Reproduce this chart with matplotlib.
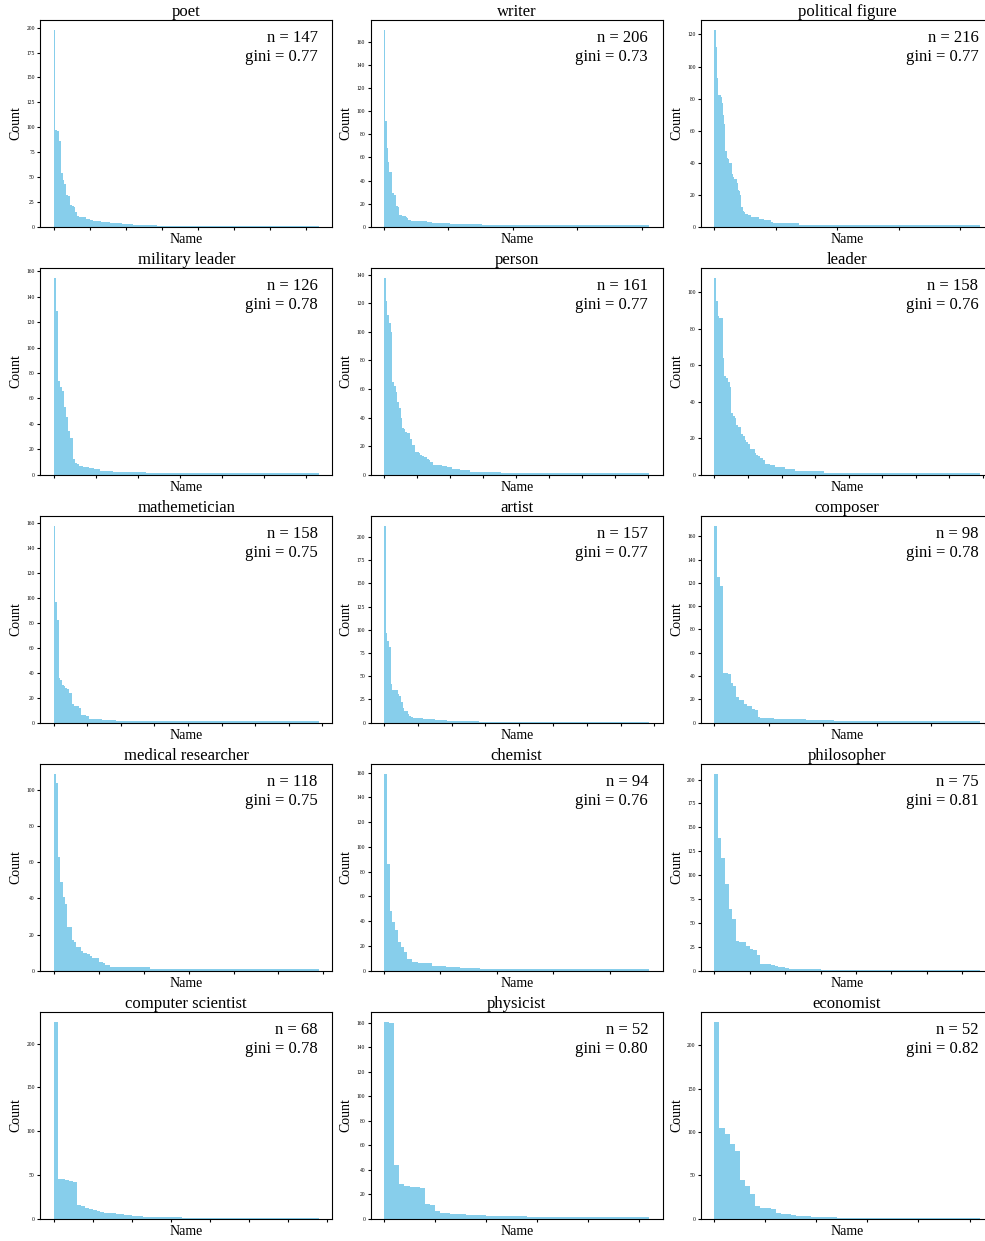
import matplotlib
matplotlib.use('Agg')
import matplotlib.pyplot as plt
import numpy as np

plt.rcParams['font.family'] = ['Liberation Serif', 'DejaVu Serif']

# occupations, in the order of the grid
titles = ['poet', 'writer', 'political figure',
          'military leader', 'person', 'leader',
          'mathemetician', 'artist', 'composer',
          'medical researcher', 'chemist', 'philosopher',
          'computer scientist', 'physicist', 'economist']
n_values = [147, 206, 216, 126, 161, 158, 158, 157, 98, 118, 94, 75, 68, 52, 52]
gini_values = [0.77, 0.73, 0.77, 0.78, 0.77, 0.76, 0.75, 0.77, 0.78, 0.75, 0.76, 0.81, 0.78, 0.80, 0.82]

# counts per name, sorted: first bars one by one, then the flat tail as (count, how many)
poet_head = [198, 97, 96, 86, 54, 47, 43, 32, 31, 22, 21, 20, 15, 11, 10, 10, 10, 10, 8, 8,
             7, 7, 6, 6, 6, 6, 5, 5, 5, 5, 5]
poet_tail = [(4, 7), (3, 6), (2, 13), (1, 90)]
writer_head = [171, 92, 68, 56, 47, 47, 29, 29, 27, 18, 18, 17, 10, 10, 9, 9, 9, 8, 7, 6, 6]
writer_tail = [(5, 12), (4, 4), (3, 14), (2, 25), (1, 130)]
political_head = [123, 112, 93, 82, 82, 81, 77, 70, 64, 47, 43, 42, 40, 40, 33, 31, 30, 30, 27, 23,
                  22, 20, 12, 10, 9, 8, 8]
political_tail = [(7, 3), (6, 6), (5, 4), (4, 6), (3, 2), (2, 21), (1, 147)]
military_head = [155, 129, 74, 69, 66, 53, 45, 34, 29, 12, 9, 8, 7, 7, 6, 6, 6, 5, 5]
military_tail = [(4, 3), (3, 6), (2, 16), (1, 82)]
person_head = [138, 122, 112, 106, 100, 65, 62, 58, 51, 47, 40, 33, 32, 30, 29, 29, 25, 21, 21, 16,
               16, 15, 14, 13, 12, 12, 11, 10, 9, 9]
person_tail = [(7, 5), (6, 3), (5, 3), (4, 5), (3, 6), (2, 19), (1, 90)]
leader_head = [108, 95, 87, 86, 86, 64, 54, 53, 51, 48, 34, 32, 31, 27, 26, 26, 22, 21, 19, 18,
               17, 14, 14, 14, 12, 11, 10, 9, 9, 8]
leader_tail = [(6, 3), (5, 3), (4, 6), (3, 6), (2, 17), (1, 93)]
math_head = [158, 97, 82, 36, 34, 30, 29, 28, 27, 24, 24, 15, 13, 13, 13, 12, 6, 6, 6, 5, 5]
math_tail = [(3, 8), (2, 8), (1, 121)]
artist_head = [212, 96, 88, 81, 42, 35, 35, 35, 31, 29, 22, 16, 13, 12, 9, 7, 6]
artist_tail = [(5, 6), (4, 7), (3, 7), (2, 19), (1, 101)]
composer_head = [169, 125, 117, 43, 43, 42, 34, 31, 22, 19, 19, 16, 14, 14, 12, 11, 5]
composer_tail = [(4, 5), (3, 12), (2, 10), (1, 54)]
medical_head = [109, 104, 63, 49, 41, 37, 24, 24, 17, 16, 13, 13, 11, 10, 10, 9, 8, 7, 7, 7,
                5, 5, 4, 3, 3]
medical_tail = [(2, 18), (1, 75)]
chemist_head = [159, 86, 48, 39, 33, 23, 19, 15, 9, 9, 7, 7]
chemist_tail = [(6, 5), (4, 5), (3, 5), (2, 7), (1, 60)]
philosopher_head = [206, 139, 118, 91, 64, 54, 31, 30, 30, 26, 23, 22, 16, 7, 7, 7, 6, 5, 4, 4, 3]
philosopher_tail = [(2, 9), (1, 45)]
cs_head = [225, 45, 45, 44, 43, 42, 16, 14, 12, 11, 10, 9, 8, 7, 6, 6, 5, 5, 4, 4, 3, 3, 3]
cs_tail = [(2, 10), (1, 35)]
physicist_head = [161, 160, 44, 28, 27, 26, 26, 25, 12, 11, 6, 5, 5, 4, 4, 4, 3, 3, 3, 3]
physicist_tail = [(2, 8), (1, 24)]
economist_head = [227, 105, 98, 86, 78, 45, 38, 28, 15, 12, 12, 11, 6, 5, 5, 4, 3, 3, 3]
economist_tail = [(2, 5), (1, 28)]

heads = [poet_head, writer_head, political_head, military_head, person_head, leader_head,
         math_head, artist_head, composer_head, medical_head, chemist_head, philosopher_head,
         cs_head, physicist_head, economist_head]
tails = [poet_tail, writer_tail, political_tail, military_tail, person_tail, leader_tail,
         math_tail, artist_tail, composer_tail, medical_tail, chemist_tail, philosopher_tail,
         cs_tail, physicist_tail, economist_tail]


def expand(head, tail):
    vals = [v for v, k in tail]
    reps = [k for v, k in tail]
    return np.concatenate([head, np.repeat(vals, reps)])


fig, axes = plt.subplots(5, 3, figsize=(9.85, 12.41), dpi=100)
# the right column runs a little past the edge of the picture, as in the original
fig.subplots_adjust(left=0.041, right=1.0081, top=0.984, bottom=0.018,
                    wspace=0.132, hspace=0.2)

for ax, title, n, g, head, tail in zip(axes.flat, titles, n_values, gini_values, heads, tails):
    counts = expand(head, tail)
    ax.bar(np.arange(len(counts)), counts, width=1, align='edge', color='skyblue')
    ax.set_title(title, fontsize=12, pad=3)
    ax.set_xlabel('Name', fontsize=10, labelpad=2)
    ax.set_ylabel('Count', fontsize=10, labelpad=3)
    ax.tick_params(axis='both', labelsize=4, length=2.5, pad=1.5)
    ax.tick_params(axis='x', labelbottom=False)
    ax.text(0.95, 0.95, 'n = %d\ngini = %.2f' % (n, g), transform=ax.transAxes,
            ha='right', va='top', fontsize=12)

plt.savefig('out.png', dpi=100)
